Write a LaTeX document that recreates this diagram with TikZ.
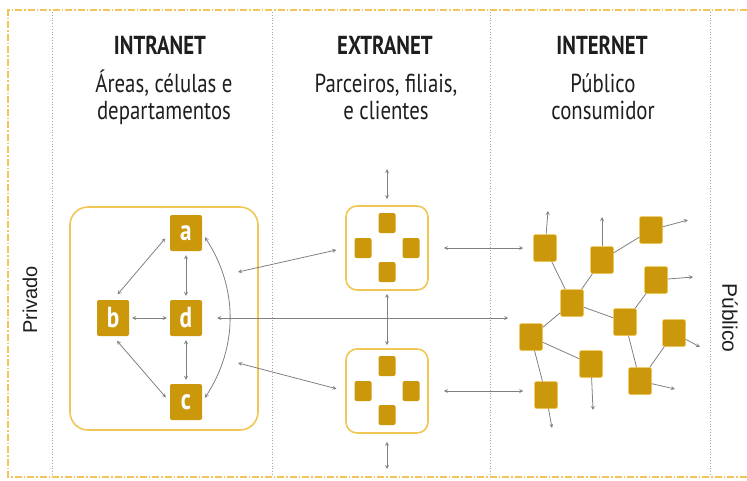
\documentclass[tikz,border=0pt]{standalone}
\usepackage{fontspec}
\setmainfont{PT Sans}[FakeStretch=0.8]
\newfontfamily\widesans{Liberation Sans}
\usepackage{xcolor}
\usepackage{tikz}
\usetikzlibrary{shapes.geometric, arrows}
\definecolor{gold}{RGB}{203,152,12}
\definecolor{paleg}{RGB}{240,198,84}
\definecolor{framec}{RGB}{243,196,92}
\definecolor{linkgray}{RGB}{128,128,128}
\definecolor{ink}{RGB}{30,30,30}
\tikzstyle{arrow} = [linkgray,line width=0.8pt,<->,>=stealth]
\tikzstyle{outarrow} = [linkgray,line width=0.8pt,->,>=stealth]
\tikzstyle{link} = [linkgray,line width=0.8pt]
\tikzstyle{area} = [draw=paleg,line width=1.6pt,inner sep=0pt]
\tikzstyle{cell} = [fill=gold,rounded corners=2pt,text=white,inner sep=0pt,minimum width=32pt,minimum height=36pt,font=\bfseries\fontsize{29}{29}\selectfont]
\tikzstyle{unit} = [fill=gold,rounded corners=2pt,inner sep=0pt,minimum width=17pt,minimum height=20pt]
\tikzstyle{host} = [fill=gold,draw=paleg,line width=0.5pt,rounded corners=2pt,inner sep=0pt,minimum width=23pt,minimum height=27pt]
\tikzstyle{title} = [ink,font=\bfseries\fontsize{26}{28}\selectfont]
\tikzstyle{subtitle} = [ink,align=center,font=\fontsize{26}{27}\selectfont]

\begin{document}
\begin{tikzpicture}[x=1pt,y=-1pt]
			\useasboundingbox (0,0) rectangle (747,480);
			
			% Frame and columns:
			% The outer frame is dash-dotted, the columns are split by dotted lines
			\draw[framec, line width=1.3pt, dash pattern=on 7pt off 2pt on 1.5pt off 2pt] (747,10) -- (8,10) -- (8,477) -- (747,477);
			\foreach \x in {52,272,490,710}
				\draw[gray!70, dotted, line width=0.8pt] (\x,12) -- (\x,476);
			
			% Side labels:
			\node [rotate=90, ink, font=\widesans\fontsize{20}{22}\selectfont] (privado) at (30,300) {Privado};
			\node [rotate=-90, ink, font=\widesans\fontsize{21}{22}\selectfont] (publico) at (730,318) {Público};
			
			% Column headers:
			\node [title] (intratitle) at (160,45) {INTRANET};
			\node [title] (extratitle) at (385,45) {EXTRANET};
			\node [title] (intertitle) at (602,45) {INTERNET};
			\node [subtitle] (intrasub) at (164,97) {Áreas, células e\\departamentos};
			\node [subtitle] (extrasub) at (386,97) {Parceiros, filiais,\\e clientes};
			\node [subtitle] (intersub) at (603,97) {Público\\consumidor};
			
			% Intranet:
			\node [area, rounded corners=18pt, minimum width=188pt, minimum height=223pt] (intra) at (164,318.5) {};
			\node [cell] (a) at (186,233) {a};
			\node [cell] (b) at (113,318) {b};
			\node [cell] (d) at (186,318) {d};
			\node [cell] (c) at (186,402) {c};
			\draw [arrow, shorten <=7pt, shorten >=7pt] (a.west) -- (b.north);
			\draw [arrow, shorten <=6pt, shorten >=6pt] (b.south) -- (c.west);
			\draw [arrow, shorten <=4pt, shorten >=4pt] (a.south) -- (d.north);
			\draw [arrow, shorten <=4pt, shorten >=4pt] (d.south) -- (c.north);
			\draw [arrow, shorten <=3pt, shorten >=3pt] (b.east) -- (d.west);
			\draw [arrow, shorten <=5pt, shorten >=5pt] (a.east) to [bend left=33] (c.east);
			
			% Extranet:
			% Two boxes, each with four units
			\foreach \e/\y in {ext1/248,ext2/391}{
				\node [area, rounded corners=11pt, minimum width=82pt, minimum height=84pt] (\e) at (387,\y) {};
				\node [unit] (\e-n) at (387,\y-25) {};
				\node [unit] (\e-w) at (363,\y) {};
				\node [unit] (\e-e) at (411,\y) {};
				\node [unit] (\e-s) at (387,\y+24) {};
			}
			\coordinate (etop) at (387,169);
			\coordinate (ebot) at (387,469);
			\draw [arrow, shorten >=6pt] (etop) -- (ext1.north);
			\draw [arrow, shorten <=3pt, shorten >=3pt] (ext1.south) -- (ext2.north);
			\draw [arrow, shorten <=8pt] (ext2.south) -- (ebot);
			
			% Internet:
			\foreach \n/\x/\y in {1/545/248, 2/602/260, 3/651/230, 4/656/280, 5/572/303, 6/625/322, 7/674/333, 8/531/337, 9/591/364, 10/640/381, 11/546/395}
				\node [host] (n\n) at (\x,\y) {};
			\foreach \p/\q in {1/5, 5/2, 2/3, 5/8, 5/6, 6/4, 6/10, 10/7, 8/9, 8/11}
				\draw [link] (n\p) -- (n\q);
			\foreach \n/\x/\y in {1/548/211, 2/602/217, 3/688/220, 4/693/277, 7/700/347, 10/675/389, 9/593/410, 11/552/428}{
				\coordinate (o\n) at (\x,\y);
				\draw [outarrow] (n\n) -- (o\n);
			}
			
			% Links between the columns:
			\coordinate (i1) at (238,272);
			\coordinate (i2) at (238,363);
			\draw [arrow, shorten >=9pt] (i1) -- (ext1.west);
			\draw [arrow, shorten >=9pt] (i2) -- (ext2.west);
			\draw [arrow, shorten <=15pt, shorten >=10pt] (ext1.east) -- (ext1.east -| n1.west);
			\draw [arrow, shorten <=15pt, shorten >=11pt] (ext2.east) -- (ext2.east -| n11.west);
			\draw [arrow, shorten <=15pt, shorten >=11pt] (d.east) -- (d.east -| n8.west);
\end{tikzpicture}
\end{document}
